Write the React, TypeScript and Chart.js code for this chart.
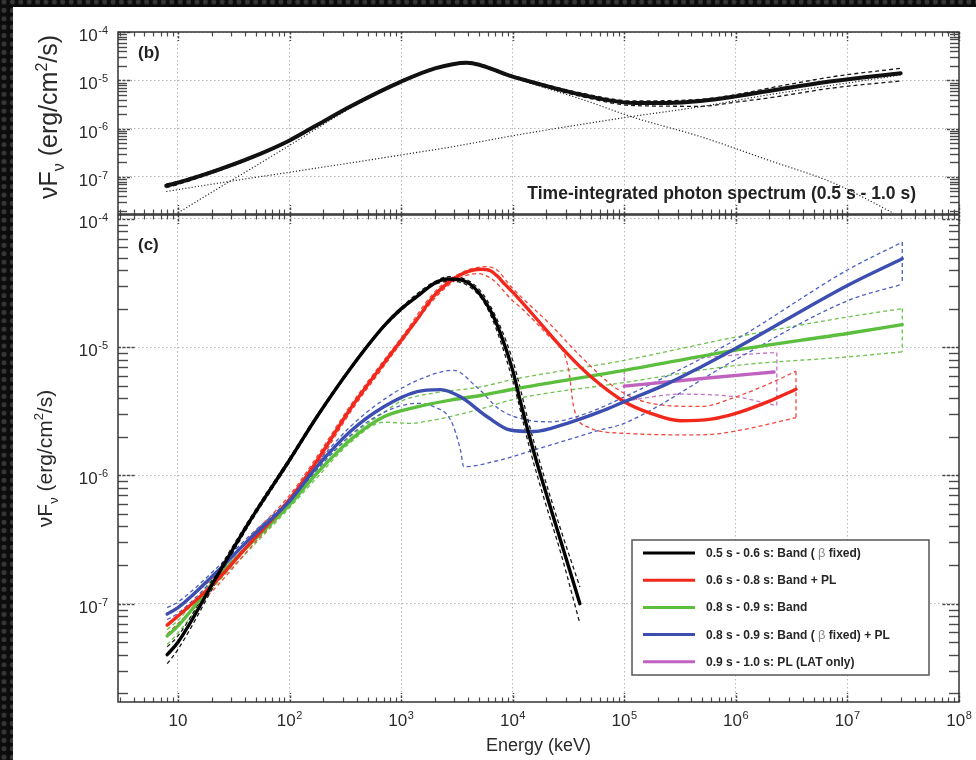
import React, { useEffect, useRef } from 'react';
import { Chart, registerables } from 'chart.js';

Chart.register(...registerables);

const FONT = '"Liberation Sans", Arial, Helvetica, sans-serif';

// ---------- axes ----------
const X_MIN = 2.9;
const X_MAX = 1e8;
const Y_MIN = 1.71e-8;
const Y_MAX_B = 1e-4;
const Y_MAX_C = 1.074e-4;
const xGridValues = [10, 1e2, 1e3, 1e4, 1e5, 1e6, 1e7];
const xTickValues = [10, 1e2, 1e3, 1e4, 1e5, 1e6, 1e7, 1e8];
const xTickSups = ['', '2', '3', '4', '5', '6', '7', '8'];
const yTickValues = [1e-4, 1e-5, 1e-6, 1e-7];
const yTickSups = ['-4', '-5', '-6', '-7'];

// ---------- panel (b): time-integrated spectrum ----------
const bTotalE = [7.85, 10, 22.9, 45.6, 100, 180, 357, 1000, 2010, 3870, 1.0e4, 4.35e4, 1.22e5, 2.44e5, 4.85e5, 9.7e5, 2.7e6, 7.6e6, 3.0e7];
const bTotalF = [6.6e-8, 7.6e-8, 1.4e-7, 2.53e-7, 5.7e-7, 1.22e-6, 2.94e-6, 9.4e-6, 1.77e-5, 2.32e-5, 1.19e-5, 4.9e-6, 3.4e-6, 3.4e-6, 3.73e-6, 4.6e-6, 6.8e-6, 9.7e-6, 1.4e-5];
const bBoundE = [7.85, 10, 22.9, 45.6, 100, 180, 357, 1000, 2010, 3870, 1.0e4, 4.35e4, 1.22e5, 4.85e5, 9.7e5, 1.93e6, 7.6e6, 3.0e7];
const bUpperF = [7.1e-8, 8.1e-8, 1.48e-7, 2.65e-7, 5.9e-7, 1.26e-6, 3.02e-6, 9.7e-6, 1.82e-5, 2.4e-5, 1.25e-5, 5.3e-6, 3.75e-6, 4.05e-6, 5.0e-6, 6.8e-6, 1.2e-5, 1.77e-5];
const bLowerF = [6.0e-8, 7.0e-8, 1.32e-7, 2.42e-7, 5.5e-7, 1.18e-6, 2.86e-6, 9.1e-6, 1.72e-5, 2.25e-5, 1.13e-5, 4.5e-6, 3.0e-6, 2.9e-6, 3.5e-6, 4.3e-6, 7.0e-6, 9.7e-6];
const bBandE = [8, 10, 22.9, 45.6, 100, 357, 1000, 2010, 3870, 1.0e4, 4.35e4, 1.22e5, 4.85e5, 1.93e6, 7.6e6, 2.6e7];
const bBandF = [1.3e-8, 1.8e-8, 5.8e-8, 1.5e-7, 4.5e-7, 2.7e-6, 9.0e-6, 1.72e-5, 2.28e-5, 1.12e-5, 3.9e-6, 1.7e-6, 6.8e-7, 2.25e-7, 7.4e-8, 1.77e-8];
const bPlE = [7.85, 44, 100, 1000, 2850, 1.1e4, 1.15e5, 4.85e5, 1.93e6, 7.6e6, 3.0e7];
const bPlF = [5.0e-8, 9.4e-8, 1.25e-7, 2.85e-7, 4.2e-7, 7.4e-7, 1.77e-6, 2.85e-6, 4.97e-6, 8.0e-6, 1.29e-5];

// ---------- panel (c): time-resolved spectra ----------
// 0.5 s - 0.6 s: Band (beta fixed)
const c1E = [8, 10, 22, 44, 100, 176, 350, 700, 1000, 1400, 1960, 2600, 3400, 4470, 6300, 7760, 1.0e4, 1.17e4, 1.44e4, 1.9e4, 2.69e4, 4.0e4];
const c1F = [4.0e-8, 5.0e-8, 1.6e-7, 4.4e-7, 1.32e-6, 2.87e-6, 6.8e-6, 1.46e-5, 1.99e-5, 2.5e-5, 3.13e-5, 3.4e-5, 3.35e-5, 2.94e-5, 1.94e-5, 1.28e-5, 6.6e-6, 3.8e-6, 1.9e-6, 8.3e-7, 3.1e-7, 1.0e-7];
const c1BE = [8, 10, 22, 44, 100, 176, 350, 700, 1000, 1960, 2700, 4470, 6300, 1.0e4, 1.44e4, 1.9e4, 2.69e4, 4.0e4];
const c1UpF = [4.6e-8, 5.6e-8, 1.72e-7, 4.6e-7, 1.37e-6, 2.95e-6, 6.95e-6, 1.49e-5, 2.04e-5, 3.22e-5, 3.55e-5, 3.1e-5, 2.1e-5, 7.9e-6, 2.3e-6, 1.0e-6, 3.8e-7, 1.35e-7];
const c1LoF = [3.4e-8, 4.4e-8, 1.48e-7, 4.2e-7, 1.27e-6, 2.79e-6, 6.65e-6, 1.43e-5, 1.93e-5, 3.05e-5, 3.27e-5, 2.8e-5, 1.8e-5, 5.5e-6, 1.55e-6, 6.7e-7, 2.5e-7, 7.0e-8];
// 0.6 s - 0.8 s: Band + PL
const c2E = [8, 10, 22, 44, 100, 176, 350, 700, 1000, 1390, 1960, 2960, 4000, 5200, 6300, 7240, 8500, 1.1e4, 1.78e4, 3.08e4, 5.0e4, 1.0e5, 1.73e5, 3.2e5, 6.0e5, 1.0e6, 2.0e6, 3.46e6];
const c2F = [6.8e-8, 8.0e-8, 1.5e-7, 2.95e-7, 6.5e-7, 1.3e-6, 3.3e-6, 7.5e-6, 1.13e-5, 1.65e-5, 2.5e-5, 3.42e-5, 3.9e-5, 4.05e-5, 3.95e-5, 3.6e-5, 3.1e-5, 2.46e-5, 1.53e-5, 8.9e-6, 5.9e-6, 3.76e-6, 3.05e-6, 2.67e-6, 2.75e-6, 3.05e-6, 3.8e-6, 4.7e-6];
const c2UpE = [8, 10, 22, 44, 100, 176, 350, 700, 1000, 1960, 2960, 5800, 7240, 9550, 2.18e4, 4.35e4, 8.7e4, 1.73e5, 4.85e5, 1.0e6, 2.0e6, 3.46e6];
const c2UpF = [8.4e-8, 9.5e-8, 1.68e-7, 3.3e-7, 7.0e-7, 1.4e-6, 3.5e-6, 7.9e-6, 1.18e-5, 2.65e-5, 3.55e-5, 4.25e-5, 4.0e-5, 3.0e-5, 1.5e-5, 8.0e-6, 4.7e-6, 3.65e-6, 3.45e-6, 4.1e-6, 5.2e-6, 6.5e-6];
const c2LoE = [8, 10, 22, 44, 100, 176, 350, 700, 1000, 1960, 2960, 4800, 6500, 1.0e4, 1.17e4, 2.05e4, 2.87e4, 3.2e4, 3.5e4, 4.65e4, 1.0e5, 4.85e5, 1.0e6, 3.46e6];
const c2LoF = [5.8e-8, 7.0e-8, 1.35e-7, 2.7e-7, 6.0e-7, 1.2e-6, 3.1e-6, 7.1e-6, 1.08e-5, 2.35e-5, 3.25e-5, 3.75e-5, 3.4e-5, 2.3e-5, 2.05e-5, 1.25e-5, 9.0e-6, 6.4e-6, 3.5e-6, 2.4e-6, 2.13e-6, 2.07e-6, 2.22e-6, 2.82e-6];
// 0.8 s - 0.9 s: Band
const c3E = [8, 10, 22, 44, 100, 176, 350, 700, 1390, 2770, 5170, 1.0e4, 1.0e5, 1.0e6, 1.0e7, 3.1e7];
const c3F = [5.6e-8, 6.7e-8, 1.55e-7, 2.9e-7, 5.9e-7, 1.04e-6, 1.89e-6, 2.87e-6, 3.43e-6, 3.87e-6, 4.2e-6, 4.7e-6, 6.6e-6, 9.5e-6, 1.28e-5, 1.5e-5];
const c3UpE = [8, 10, 22, 44, 100, 176, 350, 700, 1000, 2000, 5170, 1.0e4, 1.0e5, 1.0e6, 1.0e7, 3.1e7];
const c3UpF = [6.3e-8, 7.4e-8, 1.68e-7, 3.15e-7, 6.2e-7, 1.12e-6, 2.0e-6, 3.1e-6, 3.8e-6, 4.4e-6, 4.9e-6, 5.6e-6, 7.9e-6, 1.2e-5, 1.72e-5, 2.0e-5];
const c3LoE = [8, 10, 22, 44, 100, 176, 350, 700, 1200, 1950, 5170, 1.0e4, 1.0e5, 1.0e6, 1.0e7, 3.1e7];
const c3LoF = [4.8e-8, 5.9e-8, 1.42e-7, 2.65e-7, 5.6e-7, 9.6e-7, 1.8e-6, 2.6e-6, 2.55e-6, 2.7e-6, 3.3e-6, 3.9e-6, 5.3e-6, 7.2e-6, 8.4e-6, 9.2e-6];
// 0.8 s - 0.9 s: Band (beta fixed) + PL
const c4E = [8, 10, 22, 44, 100, 176, 350, 700, 1390, 2250, 3400, 5900, 9500, 1.56e4, 3.08e4, 6.1e4, 1.0e5, 2.45e5, 5.0e5, 1.0e6, 1.0e7, 3.1e7];
const c4F = [8.3e-8, 9.3e-8, 1.75e-7, 3.2e-7, 6.3e-7, 1.17e-6, 2.2e-6, 3.43e-6, 4.5e-6, 4.67e-6, 4.1e-6, 2.87e-6, 2.26e-6, 2.2e-6, 2.55e-6, 3.14e-6, 3.76e-6, 5.2e-6, 7.1e-6, 9.8e-6, 3.03e-5, 4.9e-5];
const c4UpE = [8, 10, 22, 44, 100, 176, 350, 700, 1390, 2960, 4740, 7760, 1.36e4, 2.2e4, 4.35e4, 1.0e5, 9.7e5, 1.0e7, 3.1e7];
const c4UpF = [9.3e-8, 1.03e-7, 1.88e-7, 3.4e-7, 6.6e-7, 1.24e-6, 2.4e-6, 3.9e-6, 5.5e-6, 6.6e-6, 4.9e-6, 3.24e-6, 2.7e-6, 2.62e-6, 3.0e-6, 4.1e-6, 1.13e-5, 4.0e-5, 6.6e-5];
const c4LoE = [8, 10, 22, 44, 100, 176, 350, 700, 1390, 1960, 2780, 3400, 3640, 7760, 1.56e4, 3.08e4, 6.1e4, 1.0e5, 9.7e5, 1.0e7, 3.1e7];
const c4LoF = [7.5e-8, 8.4e-8, 1.62e-7, 3.0e-7, 6.0e-7, 1.1e-6, 2.05e-6, 3.1e-6, 3.65e-6, 3.43e-6, 2.7e-6, 1.58e-6, 1.17e-6, 1.32e-6, 1.58e-6, 1.89e-6, 2.26e-6, 2.55e-6, 7.9e-6, 2.3e-5, 3.1e-5];
// 0.9 s - 1.0 s: PL (LAT only)
const c5E = [1.0e5, 5.0e5, 2.2e6];
const c5F = [4.97e-6, 5.7e-6, 6.4e-6];
const c5BE = [1.0e5, 3.2e5, 1.0e6, 2.33e6];
const c5UpF = [6.6e-6, 7.9e-6, 8.7e-6, 9.1e-6];
const c5LoF = [3.8e-6, 4.3e-6, 4.1e-6, 3.5e-6];

// ---------- legend ----------
const legendLabels = [
  '0.5 s - 0.6 s: Band ( β fixed)',
  '0.6 s - 0.8 s: Band + PL',
  '0.8 s - 0.9 s: Band',
  '0.8 s - 0.9 s: Band ( β fixed) + PL',
  '0.9 s - 1.0 s: PL (LAT only)',
];
const seriesColors = ['#000000', '#f3281c', '#5cbe3d', '#3c4fb1', '#c062c0'];
const boundColors = ['#1a1a1a', '#f2473c', '#6cc44c', '#4d5fc2', '#c773c7'];
const titleB = 'Time-integrated photon spectrum (0.5 s - 1.0 s)';

// ---------- helpers ----------
const pts = (E: number[], F: number[]) => E.map((x, i) => ({ x, y: F[i] }));
const last = (a: number[]) => a[a.length - 1];

function solidDs(E: number[], F: number[], color: string, width: number, order: number) {
  return {
    data: pts(E, F), borderColor: color, borderWidth: width, pointRadius: 0,
    cubicInterpolationMode: 'monotone', fill: false, order,
    borderJoinStyle: 'round', borderCapStyle: 'round',
  };
}
function dashDs(E: number[], F: number[], color: string, order: number, dash = [4, 3], width = 1.3) {
  return {
    data: pts(E, F), borderColor: color, borderWidth: width, pointRadius: 0,
    cubicInterpolationMode: 'monotone', fill: false, order, borderDash: dash,
  };
}
function capDs(x1: number, y1: number, x2: number, y2: number, color: string, order: number) {
  return {
    data: [{ x: x1, y: y1 }, { x: x2, y: y2 }], borderColor: color, borderWidth: 1.3,
    pointRadius: 0, fill: false, order, borderDash: [4, 3],
  };
}

function scalesFor(yMax: number) {
  return {
    x: {
      type: 'logarithmic', min: X_MIN, max: X_MAX,
      afterBuildTicks: (s: any) => { s.ticks = xGridValues.map((v) => ({ value: v })); },
      afterFit: (s: any) => { s.height = 0; },
      ticks: { display: false },
      grid: { color: '#b9b9b9', lineWidth: 1, drawTicks: false },
      border: { display: false, dash: [1.5, 2.5] },
    },
    y: {
      type: 'logarithmic', min: Y_MIN, max: yMax,
      afterBuildTicks: (s: any) => { s.ticks = yTickValues.map((v) => ({ value: v })); },
      afterFit: (s: any) => { s.width = 0; },
      ticks: { display: false },
      grid: { color: '#b9b9b9', lineWidth: 1, drawTicks: false },
      border: { display: false, dash: [1.5, 2.5] },
    },
  };
}

function seg(ctx: CanvasRenderingContext2D, x1: number, y1: number, x2: number, y2: number) {
  ctx.beginPath(); ctx.moveTo(x1, y1); ctx.lineTo(x2, y2); ctx.stroke();
}

function drawTicks(ctx: CanvasRenderingContext2D, a: any, xs: any, ys: any, yMinor: number, yMajor: number) {
  ctx.save();
  ctx.strokeStyle = '#4a4a4a';
  for (let e = 0; e <= 8; e++) {
    for (let k = 1; k <= 9; k++) {
      const v = k * Math.pow(10, e);
      if (v < xs.min || v > xs.max * 1.0001) continue;
      const px = Math.round(xs.getPixelForValue(v)) + 0.5;
      const len = k === 1 ? 9 : 4.5;
      ctx.lineWidth = k === 1 ? 1.5 : 1.2;
      ctx.setLineDash(k === 1 ? [2.5, 1.5] : []);
      seg(ctx, px, a.bottom, px, a.bottom - len);
      seg(ctx, px, a.top, px, a.top + len);
    }
  }
  for (let e = -8; e <= -4; e++) {
    for (let k = 1; k <= 9; k++) {
      const v = k * Math.pow(10, e);
      if (v < ys.min || v > ys.max) continue;
      const py = Math.round(ys.getPixelForValue(v)) + 0.5;
      const len = k === 1 ? yMajor : yMinor;
      ctx.lineWidth = k === 1 ? 1.6 : 1.4;
      ctx.setLineDash(k === 1 ? [3, 1.5] : []);
      seg(ctx, a.left, py, a.left + len, py);
      seg(ctx, a.right, py, a.right - len, py);
    }
  }
  ctx.restore();
}

function drawPow(ctx: CanvasRenderingContext2D, x: number, y: number, sup: string, align: string, size = 17) {
  ctx.save();
  ctx.fillStyle = '#2a2a2a';
  ctx.textAlign = 'left';
  ctx.textBaseline = 'alphabetic';
  ctx.font = `${size}px ${FONT}`;
  const w1 = ctx.measureText('10').width;
  const supSize = Math.round(size * 0.66);
  ctx.font = `${supSize}px ${FONT}`;
  const w2 = sup ? ctx.measureText(sup).width + 0.5 : 0;
  const total = w1 + w2;
  const x0 = align === 'center' ? x - total / 2 : x - total;
  ctx.font = `${size}px ${FONT}`;
  ctx.fillText('10', x0, y);
  if (sup) {
    ctx.font = `${supSize}px ${FONT}`;
    ctx.fillText(sup, x0 + w1 + 0.5, y - size * 0.42);
  }
  ctx.restore();
}

function drawYTitle(ctx: CanvasRenderingContext2D, bx: number, cy: number, size: number) {
  const small = Math.round(size * 0.62);
  const parts: [string, number, number][] = [
    ['νF', size, 0],
    ['ν', small, size * 0.28],
    [' (erg/cm', size, 0],
    ['2', small, -size * 0.42],
    ['/s)', size, 0],
  ];
  ctx.save();
  ctx.translate(bx, cy);
  ctx.rotate(-Math.PI / 2);
  ctx.fillStyle = '#2a2a2a';
  ctx.textAlign = 'left';
  ctx.textBaseline = 'alphabetic';
  let total = 0;
  const widths = parts.map(([t, s]) => { ctx.font = `${s}px ${FONT}`; const w = ctx.measureText(t).width; total += w; return w; });
  let x = -total / 2;
  parts.forEach(([t, s, dy], i) => {
    ctx.font = `${s}px ${FONT}`;
    ctx.fillText(t, x, dy);
    x += widths[i];
  });
  ctx.restore();
}

function frame(ctx: CanvasRenderingContext2D, a: any) {
  ctx.save();
  ctx.strokeStyle = '#333';
  ctx.lineWidth = 1.5;
  ctx.setLineDash([]);
  ctx.strokeRect(a.left, a.top, a.right - a.left, a.bottom - a.top);
  ctx.restore();
}

const panelBPlugin = {
  id: 'panelB',
  afterDraw(chart: any) {
    const { ctx, chartArea: a } = chart;
    const xs = chart.scales.x, ys = chart.scales.y;
    drawTicks(ctx, a, xs, ys, 9, 14);
    frame(ctx, a);
    yTickValues.forEach((v, i) => drawPow(ctx, a.left - 10, ys.getPixelForValue(v) + 9, yTickSups[i], 'right'));
    drawYTitle(ctx, 57, (a.top + a.bottom) / 2 - 6, 25);
    ctx.save();
    ctx.fillStyle = '#222';
    ctx.font = `bold 17px ${FONT}`;
    ctx.textAlign = 'left';
    ctx.fillText('(b)', a.left + 20, a.top + 26);
    ctx.font = `bold 17.5px ${FONT}`;
    ctx.textAlign = 'right';
    ctx.fillText(titleB, a.right - 43, a.bottom - 15);
    ctx.restore();
  },
};

const panelCPlugin = {
  id: 'panelC',
  afterDraw(chart: any) {
    const { ctx, chartArea: a } = chart;
    const xs = chart.scales.x, ys = chart.scales.y;
    drawTicks(ctx, a, xs, ys, 10, 18);
    frame(ctx, a);
    yTickValues.forEach((v, i) => drawPow(ctx, a.left - 10, ys.getPixelForValue(v) + 9, yTickSups[i], 'right'));
    xTickValues.forEach((v, i) => drawPow(ctx, xs.getPixelForValue(v), a.bottom + 24, xTickSups[i], 'center'));
    drawYTitle(ctx, 52, (a.top + a.bottom) / 2, 21);
    ctx.save();
    ctx.fillStyle = '#2a2a2a';
    ctx.textAlign = 'center';
    ctx.font = `18px ${FONT}`;
    ctx.fillText('Energy (keV)', (a.left + a.right) / 2, a.bottom + 49);
    ctx.fillStyle = '#222';
    ctx.textAlign = 'left';
    ctx.font = `bold 17px ${FONT}`;
    ctx.fillText('(c)', a.left + 20, a.top + 35);
    // legend
    const lw = 297, lh = 135;
    const lx = a.right - 30 - lw, ly = a.bottom - 27 - lh;
    ctx.fillStyle = '#fff';
    ctx.fillRect(lx, ly, lw, lh);
    ctx.strokeStyle = '#555';
    ctx.lineWidth = 1.5;
    ctx.strokeRect(lx, ly, lw, lh);
    legendLabels.forEach((lab, i) => {
      const cy = ly + 13 + i * 27.2;
      ctx.strokeStyle = seriesColors[i];
      ctx.lineWidth = 3;
      seg(ctx, lx + 11, cy, lx + 63, cy);
      let tx = lx + 74;
      const parts = lab.split('β');
      parts.forEach((p, j) => {
        ctx.font = `bold 12px ${FONT}`;
        ctx.fillStyle = '#262626';
        ctx.fillText(p, tx, cy + 4);
        tx += ctx.measureText(p).width;
        if (j < parts.length - 1) {
          ctx.font = `13px ${FONT}`;
          ctx.fillStyle = '#8a8a8a';
          ctx.fillText('β', tx, cy + 4);
          tx += ctx.measureText('β').width;
        }
      });
    });
    ctx.restore();
  },
};

function configB() {
  return {
    type: 'line',
    data: {
      datasets: [
        solidDs(bTotalE, bTotalF, '#111', 4, 1),
        dashDs(bBoundE, bUpperF, '#1a1a1a', 3),
        dashDs(bBoundE, bLowerF, '#1a1a1a', 3),
        dashDs(bBandE, bBandF, '#2a2a2a', 4, [1.2, 2], 1.2),
        dashDs(bPlE, bPlF, '#2a2a2a', 4, [1.2, 2], 1.2),
      ],
    },
    options: {
      animation: false, responsive: false, devicePixelRatio: 1, events: [],
      layout: { padding: { left: 118, right: 17, top: 32, bottom: 546 } },
      plugins: { legend: { display: false }, tooltip: { enabled: false }, title: { display: false } },
      scales: scalesFor(Y_MAX_B),
    },
    plugins: [panelBPlugin],
  };
}

function configC() {
  const ds: any[] = [];
  const groups = [
    [c1E, c1F, c1BE, c1UpF, c1BE, c1LoF, 1],
    [c2E, c2F, c2UpE, c2UpF, c2LoE, c2LoF, 3],
    [c3E, c3F, c3UpE, c3UpF, c3LoE, c3LoF, 4],
    [c4E, c4F, c4UpE, c4UpF, c4LoE, c4LoF, 2],
    [c5E, c5F, c5BE, c5UpF, c5BE, c5LoF, 5],
  ] as any[];
  groups.forEach((g, i) => {
    const [E, F, UE, UF, LE, LF, ord] = g;
    ds.push(solidDs(E, F, seriesColors[i], 3.4, ord));
    ds.push(dashDs(UE, UF, boundColors[i], 10 + ord));
    ds.push(dashDs(LE, LF, boundColors[i], 10 + ord));
    if (i > 0) ds.push(capDs(last(UE), last(UF), last(LE), last(LF), boundColors[i], 10 + ord));
    if (i === 4) ds.push(capDs(UE[0], UF[0], LE[0], LF[0], boundColors[i], 10 + ord));
  });
  return {
    type: 'line',
    data: { datasets: ds },
    options: {
      animation: false, responsive: false, devicePixelRatio: 1, events: [],
      layout: { padding: { left: 118, right: 17, top: 215, bottom: 58 } },
      plugins: { legend: { display: false }, tooltip: { enabled: false }, title: { display: false } },
      scales: scalesFor(Y_MAX_C),
    },
    plugins: [panelCPlugin],
  };
}

export default function App() {
  const refB = useRef<HTMLCanvasElement>(null);
  const refC = useRef<HTMLCanvasElement>(null);
  useEffect(() => {
    const cb = new Chart(refB.current as any, configB() as any);
    const cc = new Chart(refC.current as any, configC() as any);
    return () => { cb.destroy(); cc.destroy(); };
  }, []);
  const canvasStyle: React.CSSProperties = { position: 'absolute', left: 0, top: 0, width: 976, height: 760 };
  return (
    <div
      style={{
        position: 'absolute', left: 0, top: 0, width: 976, height: 760, overflow: 'hidden',
        backgroundColor: '#0c0c0c',
        backgroundImage: 'radial-gradient(circle, #363636 2.3px, transparent 2.9px)',
        backgroundSize: '8.4px 8.4px',
        backgroundPosition: '-0.2px -2.2px',
      }}
    >
      <div style={{ position: 'absolute', left: 13, top: 7, right: 0, bottom: 0, background: '#ffffff' }} />
      <canvas ref={refB} width={976} height={760} style={canvasStyle} />
      <canvas ref={refC} width={976} height={760} style={canvasStyle} />
    </div>
  );
}
